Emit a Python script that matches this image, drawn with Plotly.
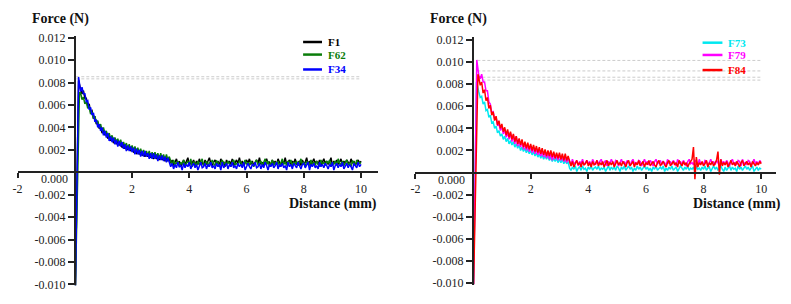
import numpy as np
import plotly.graph_objects as go

W, H = 791, 304
FONT = '"Liberation Serif", "Times New Roman", Times, serif'

# ---------------- data: force in units of 1e-4 N, distance in mm ----------------
# sample positions after the initial spike (0.05 mm apart)
GRID_MM = np.round(np.arange(0.20, 10.0001, 0.05), 2)   # 0.20 ... 10.00 -> 197 samples
N_DECAY = 63                                            # 0.20 ... 3.30 mm, rest 3.35 ... 10.00 mm

# initial spike: start point and peak point
F1_HEAD_X = [0.02, 0.13]
F1_HEAD_Y = [-101, 82]
F62_HEAD_X = [0.02, 0.16]
F62_HEAD_Y = [-101, 71]
F34_HEAD_X = [0.02, 0.13]
F34_HEAD_Y = [-101, 85]
F73_HEAD_X = [0.02, 0.12]
F73_HEAD_Y = [-101, 82]
F79_HEAD_X = [0.02, 0.13]
F79_HEAD_Y = [-101, 102]
F84_HEAD_X = [0.02, 0.17]
F84_HEAD_Y = [-101, 89]

F1_DECAY = [74, 70, 73, 66, 66, 59, 61, 54, 55, 48, 50, 43, 45, 39, 41, 35, 38, 33, 35, 30,
            33, 28, 31, 26, 30, 25, 28, 24, 26, 22, 25, 21, 23, 20, 22, 19, 21, 18, 19, 17,
            19, 16, 18, 15, 17, 14, 17, 14, 16, 13, 15, 12, 15, 12, 14, 11, 14, 11, 13, 10,
            13, 10, 12]
F1_FLAT = [8, 11, 6, 9, 12, 7, 10, 5, 9, 11, 7, 10, 13, 6, 9, 8, 11, 6, 10, 7,
           12, 8, 9, 6, 11, 7, 10, 13, 8, 6, 9, 11, 7, 10, 6, 12, 8, 9, 5, 11,
           8, 10, 7, 12, 6, 9, 11, 8, 13, 7, 10, 6, 9, 11, 8, 12, 7, 10, 6, 9,
           11, 8, 13, 7, 9, 6, 10, 12, 8, 9, 6, 11, 8, 10, 7, 12, 9, 6, 10, 8,
           13, 7, 9, 11, 6, 10, 8, 12, 7, 9, 10, 6, 11, 8, 9, 13, 7, 10, 6, 9,
           12, 8, 10, 7, 11, 6, 9, 12, 8, 10, 7, 9, 13, 6, 10, 8, 11, 7, 9, 12,
           6, 10, 8, 11, 9, 7, 12, 8, 10, 6, 9, 11, 8, 10]
F62_DECAY = [71, 65, 67, 61, 63, 57, 59, 52, 54, 48, 50, 44, 46, 40, 43, 37, 40, 34, 37, 32,
             35, 30, 33, 28, 31, 27, 30, 25, 29, 24, 27, 23, 26, 21, 25, 20, 24, 19, 23, 18,
             22, 17, 21, 16, 20, 16, 19, 15, 19, 14, 18, 13, 18, 13, 17, 12, 17, 12, 16, 11,
             16, 11, 14]
F62_FLAT = [9, 6, 11, 7, 8, 10, 5, 9, 7, 11, 6, 8, 10, 7, 12, 5, 9, 8, 6, 10,
            7, 9, 12, 6, 8, 10, 5, 9, 7, 11, 8, 6, 10, 9, 5, 8, 11, 7, 9, 6,
            10, 8, 5, 9, 11, 7, 8, 6, 10, 9, 5, 8, 11, 7, 9, 6, 10, 8, 5, 9,
            11, 7, 8, 10, 6, 9, 12, 7, 10, 5, 8, 11, 6, 9, 7, 10, 5, 8, 12, 7,
            9, 6, 10, 8, 11, 5, 9, 7, 10, 6, 8, 12, 7, 9, 5, 10, 8, 6, 11, 7,
            9, 6, 10, 8, 5, 11, 7, 9, 6, 10, 8, 11, 5, 9, 7, 10, 6, 12, 8, 7,
            10, 6, 9, 11, 7, 8, 5, 10, 9, 6, 11, 7, 9, 8]
F34_DECAY = [72, 76, 70, 70, 63, 64, 56, 58, 51, 53, 45, 47, 40, 43, 37, 40, 33, 37, 31, 35,
             28, 32, 27, 31, 25, 29, 23, 28, 23, 27, 21, 25, 19, 24, 19, 23, 18, 22, 16, 21,
             16, 20, 14, 19, 14, 19, 14, 17, 12, 17, 12, 17, 12, 16, 10, 15, 11, 15, 10, 14,
             9, 13, 9]
F34_FLAT = [5, 8, 3, 7, 4, 9, 5, 6, 2, 8, 4, 7, 5, 9, 3, 6, 8, 4, 7, 2,
            6, 9, 4, 5, 8, 3, 7, 5, 9, 4, 6, 3, 8, 5, 7, 2, 9, 4, 6, 8,
            3, 7, 5, 9, 4, 6, 3, 8, 5, 7, 4, 9, 2, 6, 8, 5, 3, 7, 6, 9,
            4, 5, 8, 3, 7, 4, 9, 6, 2, 7, 5, 8, 4, 6, 9, 3, 7, 5, 8, 4,
            6, 2, 9, 5, 7, 3, 8, 6, 4, 9, 5, 3, 7, 8, 4, 6, 9, 2, 7, 5,
            8, 4, 6, 3, 9, 5, 7, 4, 8, 6, 3, 7, 5, 9, 2, 6, 8, 4, 7, 5,
            9, 3, 6, 8, 4, 7, 5, 2, 8, 6, 4, 9, 5, 7]
F73_DECAY = [73, 68, 69, 62, 64, 56, 57, 50, 52, 45, 46, 40, 42, 36, 38, 33, 35, 30, 33, 28,
             31, 26, 29, 25, 28, 23, 26, 22, 25, 20, 23, 19, 22, 18, 21, 17, 20, 16, 19, 15,
             18, 14, 17, 13, 16, 12, 15, 12, 15, 11, 14, 10, 13, 10, 13, 9, 12, 9, 12, 8,
             11, 8, 10]
F73_FLAT = [4, 2, 5, 3, 6, 1, 4, 5, 2, 6, 3, 4, 1, 5, 3, 6, 2, 4, 5, 3,
            6, 2, 4, 3, 5, 1, 4, 6, 2, 5, 3, 5, 2, 6, 4, 1, 5, 3, 6, 2,
            4, 6, 3, 5, 1, 4, 2, 6, 3, 5, 2, 4, 6, 3, 5, 2, 4, 1, 5, 3,
            6, 2, 4, 5, 3, 6, 1, 4, 2, 5, 3, 6, 2, 4, 5, 1, 3, 6, 4, 2,
            5, 3, 6, 2, 4, 3, 5, 1, 6, 3, 4, 2, 5, 3, 6, 2, 4, 5, 1, 4,
            6, 3, 5, 2, 4, 6, 3, 1, 5, 2, 4, 6, 2, 5, 3, 4, 1, 6, 3, 5,
            2, 4, 6, 3, 5, 2, 4, 6, 1, 3, 5, 2, 4, 3]
F79_DECAY = [88, 85, 89, 82, 82, 74, 74, 64, 62, 54, 55, 48, 50, 43, 44, 38, 42, 35, 39, 32,
             37, 30, 36, 28, 34, 26, 33, 24, 30, 23, 29, 21, 27, 20, 25, 19, 24, 18, 23, 17,
             22, 16, 21, 15, 20, 14, 19, 13, 19, 12, 18, 11, 17, 12, 16, 11, 16, 11, 15, 10,
             15, 9, 13]
F79_FLAT = [10, 7, 12, 8, 9, 11, 6, 10, 8, 12, 7, 9, 11, 8, 10, 6, 12, 9, 7, 11,
            8, 10, 12, 7, 9, 11, 6, 10, 8, 12, 9, 7, 11, 10, 6, 9, 12, 8, 10, 7,
            11, 9, 6, 10, 12, 8, 9, 7, 11, 10, 6, 9, 12, 8, 10, 7, 11, 9, 6, 10,
            12, 8, 9, 11, 7, 10, 9, 6, 12, 8, 10, 7, 11, 9, 6, 12, 8, 10, 7, 11,
            9, 6, 10, 12, 8, 9, 7, 11, 10, 6, 12, 8, 9, 7, 11, 10, 6, 9, 12, 8,
            10, 7, 11, 9, 6, 12, 8, 10, 7, 11, 9, 6, 10, 12, 8, 9, 7, 11, 10, 6,
            12, 8, 9, 7, 11, 10, 6, 9, 12, 8, 10, 7, 11, 9]
F84_DECAY = [86, 79, 82, 72, 75, 65, 68, 58, 61, 52, 55, 47, 51, 43, 47, 40, 44, 37, 41, 34,
             39, 32, 37, 30, 35, 28, 33, 26, 31, 25, 30, 23, 28, 22, 27, 21, 26, 20, 25, 19,
             24, 18, 23, 17, 22, 16, 21, 15, 20, 15, 20, 14, 19, 13, 18, 13, 18, 12, 17, 11,
             17, 11, 15]
F84_FLAT = [9, 6, 10, 5, 8, 11, 7, 9, 5, 10, 7, 8, 11, 6, 9, 5, 10, 7, 8, 11,
            6, 9, 7, 10, 5, 8, 11, 6, 9, 7, 10, 5, 8, 11, 7, 9, 6, 10, 8, 5,
            9, 11, 6, 8, 10, 5, 9, 7, 11, 6, 8, 10, 5, 9, 7, 11, 6, 8, 10, 7,
            5, 9, 11, 6, 8, 10, 7, 5, 9, 11, 6, 8, 10, 7, 9, 5, 11, 8, 6, 10,
            7, 9, 5, 8, 10, 12, 23, -6, 14, 5, 9, 7, 10, 6, 8, 11, 5, 9, 7, 10,
            6, 8, 11, 19, -2, 12, 6, 9, 7, 10, 5, 8, 11, 7, 9, 6, 10, 8, 5, 9,
            11, 6, 8, 10, 7, 9, 5, 10, 8, 6, 9, 7, 10, 8]

# grey dashed peak-level guide lines (1e-4 N) and their extent (mm)
LEFT_GUIDES = [85.3, 83.4]
RIGHT_GUIDES = [101.5, 92.0, 86.3, 83.7]
LEFT_GUIDE_SPAN = [0.05, 10.0]
RIGHT_GUIDE_SPAN = [0.15, 10.0]

X_TICKS = [-2, 2, 4, 6, 8, 10]
Y_TICKS = [-0.010, -0.008, -0.006, -0.004, -0.002, 0.002, 0.004, 0.006, 0.008, 0.010, 0.012]

LEFT_SERIES = [("F1", "#000000", F1_HEAD_X, F1_HEAD_Y, F1_DECAY, F1_FLAT),
               ("F62", "#0a7d0a", F62_HEAD_X, F62_HEAD_Y, F62_DECAY, F62_FLAT),
               ("F34", "#0000ff", F34_HEAD_X, F34_HEAD_Y, F34_DECAY, F34_FLAT)]
RIGHT_SERIES = [("F73", "#00e8f0", F73_HEAD_X, F73_HEAD_Y, F73_DECAY, F73_FLAT),
                ("F79", "#ff00ff", F79_HEAD_X, F79_HEAD_Y, F79_DECAY, F79_FLAT),
                ("F84", "#ff0000", F84_HEAD_X, F84_HEAD_Y, F84_DECAY, F84_FLAT)]

UNIT = 1e-4  # N per data unit

for s in LEFT_SERIES + RIGHT_SERIES:
    assert len(s[4]) == N_DECAY, (s[0], len(s[4]))
    assert len(s[4]) + len(s[5]) == len(GRID_MM), (s[0], len(s[5]))


def px(x):
    return x / W


def py(y):
    return 1 - y / H


fig = go.Figure()

panels = [
    dict(series=LEFT_SERIES, guides=LEFT_GUIDES, span=LEFT_GUIDE_SPAN, xa="x", ya="y"),
    dict(series=RIGHT_SERIES, guides=RIGHT_GUIDES, span=RIGHT_GUIDE_SPAN, xa="x2", ya="y2"),
]

for p in panels:
    for g in p["guides"]:
        fig.add_trace(go.Scatter(x=p["span"], y=[g * UNIT, g * UNIT], mode="lines",
                                 line=dict(color="#cccccc", width=1, dash="3px,2px"),
                                 xaxis=p["xa"], yaxis=p["ya"], showlegend=False,
                                 hoverinfo="skip"))
    for name, color, hx, hy, decay, flat in p["series"]:
        xs = list(hx) + GRID_MM.tolist()
        ys = (np.array(list(hy) + list(decay) + list(flat), dtype=float) * UNIT).tolist()
        fig.add_trace(go.Scatter(x=xs, y=ys, mode="lines", name=name,
                                 line=dict(color=color, width=1.5),
                                 xaxis=p["xa"], yaxis=p["ya"], showlegend=False))

tickfont = dict(family=FONT, size=12, color="#222222")
common_x = dict(tickvals=X_TICKS, ticktext=[str(v) for v in X_TICKS], showgrid=False,
                zeroline=False, showline=True, linecolor="#222222", linewidth=2,
                ticks="outside", ticklen=5, tickwidth=1.5, tickcolor="#222222",
                tickfont=tickfont, anchor="free", fixedrange=True)
common_y = dict(tickvals=Y_TICKS, ticktext=["%.3f" % v for v in Y_TICKS], showgrid=False,
                zeroline=False, showline=True, linecolor="#222222", linewidth=2,
                ticks="outside", ticklen=6, tickwidth=1.5, tickcolor="#222222",
                tickfont=tickfont, anchor="free", fixedrange=True)

# left panel geometry (pixels)
L_X0, L_X1 = 12.7, 375.0    # x = -2 ... 10.58
L_Y0, L_Y1 = 291.0, 32.7    # y = -0.0101 ... 0.0122
L_ZERO_X, L_ZERO_Y = 70.3, 174.0
# right panel geometry (pixels)
R_X0, R_X1 = 413.0, 775.5   # x = -2 ... 10.5
R_Y0, R_Y1 = 290.8, 33.8    # y = -0.0102 ... 0.0123
R_ZERO_X, R_ZERO_Y = 471.0, 174.3

fig.update_layout(
    width=W, height=H, margin=dict(l=0, r=0, t=0, b=0),
    paper_bgcolor="white", plot_bgcolor="rgba(0,0,0,0)",
    showlegend=False,
    xaxis=dict(common_x, range=[-2, 10.58], domain=[px(L_X0), px(L_X1)], position=py(L_ZERO_Y)),
    yaxis=dict(common_y, range=[-0.0101, 0.0122], domain=[py(L_Y0), py(L_Y1)], position=px(L_ZERO_X)),
    xaxis2=dict(common_x, range=[-2, 10.5], domain=[px(R_X0), px(R_X1)], position=py(R_ZERO_Y)),
    yaxis2=dict(common_y, range=[-0.0102, 0.0123], domain=[py(R_Y0), py(R_Y1)], position=px(R_ZERO_X)),
)

ann = []
shapes = []
title_font = dict(family=FONT, size=14, color="#111111")
for fx, zx, zy, dx in [(25, 65, 181, 376), (426, 465, 181.5, 783)]:
    ann.append(dict(text="<b>Force (N)</b>", x=px(fx), y=py(15), xref="paper", yref="paper",
                    xanchor="left", yanchor="middle", showarrow=False, font=title_font))
    ann.append(dict(text="<b>Distance (mm)</b>", x=px(dx), y=py(207), xref="paper", yref="paper",
                    xanchor="right", yanchor="middle", showarrow=False, font=title_font))
    ann.append(dict(text="0.000", x=px(zx), y=py(zy), xref="paper", yref="paper",
                    xanchor="right", yanchor="middle", showarrow=False, font=tickfont))

# legends
leg_rows = [(LEFT_SERIES, 300, 319, 323, [39.3, 52.3, 67.7]),
            (RIGHT_SERIES, 702, 722, 726, [40.0, 52.7, 68.3])]
for series, lx0, lx1, tx, ys in leg_rows:
    for s, yy in zip(series, ys):
        name, color = s[0], s[1]
        shapes.append(dict(type="line", xref="paper", yref="paper",
                           x0=px(lx0), x1=px(lx1), y0=py(yy), y1=py(yy),
                           line=dict(color=color, width=2.5)))
        ann.append(dict(text="<b>%s</b>" % name, x=px(tx), y=py(yy), xref="paper", yref="paper",
                        xanchor="left", yanchor="middle", showarrow=False,
                        font=dict(family=FONT, size=11, color=color)))

fig.update_layout(annotations=ann, shapes=shapes)
fig.write_html("out.html")
